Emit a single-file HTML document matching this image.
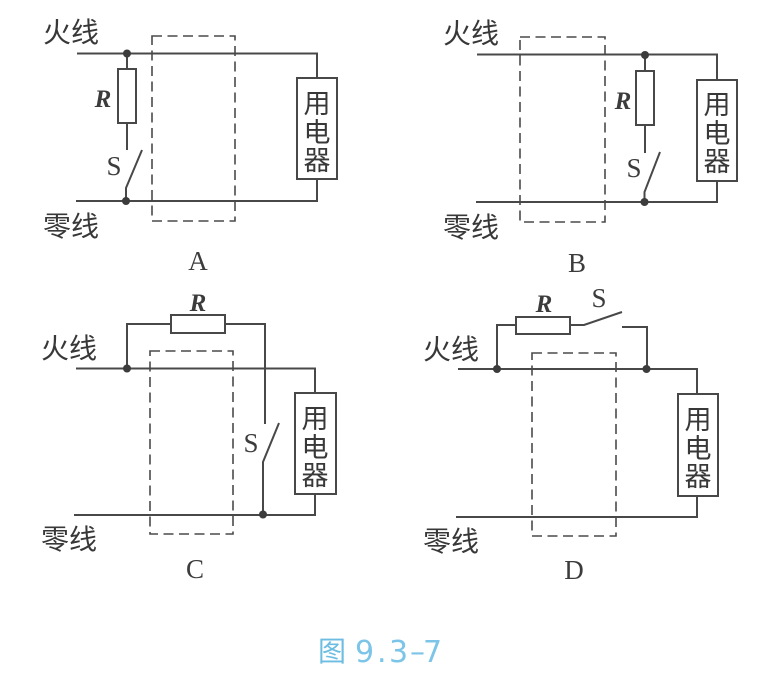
<!DOCTYPE html>
<html>
<head>
<meta charset="utf-8">
<style>
html,body{margin:0;padding:0;background:#fff;width:768px;height:681px;overflow:hidden}
svg{display:block;filter:blur(.35px)}
.w{fill:none;stroke:#484848;stroke-width:2}
.d{fill:none;stroke:#4a4a4a;stroke-width:1.6;stroke-dasharray:10 5.500}
.b{fill:#fff;stroke:#484848;stroke-width:2}
circle{fill:#3c3c3c}
.c{font-family:"Liberation Sans","Noto Sans CJK SC",sans-serif;font-size:28px;fill:#383838;font-weight:400}
.u{font-size:27px}
.r{font-family:"Liberation Serif",serif;font-size:25px;font-style:italic;font-weight:bold;fill:#3c3c3c;text-anchor:middle}
.s{font-family:"Liberation Serif",serif;font-size:27px;fill:#3c3c3c;text-anchor:middle}
.m{text-anchor:middle}
</style>
</head>
<body>
<svg width="768" height="681" viewBox="0 0 768 681" xmlns="http://www.w3.org/2000/svg">
<!-- A -->
<rect class="d" x="152" y="36" width="83" height="185"/>
<path class="w" d="M77 53.500H317V78M76 201H317V179M127 53V69M127 123V150M126 201V188L142 150"/>
<rect class="b" x="118" y="69" width="18" height="54"/>
<rect class="b" x="297" y="78" width="40" height="101"/>
<circle cx="127" cy="53.500" r="4"/><circle cx="126" cy="201" r="4"/>
<text class="c" x="43" y="42">火线</text>
<text class="c" x="43" y="236">零线</text>
<text class="r" x="103" y="107">R</text>
<text class="s" x="114" y="175">S</text>
<text class="s" x="198" y="270">A</text>
<text class="c u m" x="317" y="113">用</text>
<text class="c u m" x="317" y="142">电</text>
<text class="c u m" x="317" y="170">器</text>

<!-- B -->
<rect class="d" x="520" y="37" width="85" height="185"/>
<path class="w" d="M477 54.500H717V80M476 202H717V181M645 55V71M645 125V153M644.500 202V192L660 152"/>
<rect class="b" x="636" y="71" width="18" height="54"/>
<rect class="b" x="697" y="80" width="40" height="101"/>
<circle cx="645" cy="55" r="4"/><circle cx="644.500" cy="202" r="4"/>
<text class="c" x="443" y="43">火线</text>
<text class="c" x="443" y="237">零线</text>
<text class="r" x="623" y="109">R</text>
<text class="s" x="634" y="177">S</text>
<text class="s" x="577" y="272">B</text>
<text class="c u m" x="717" y="114">用</text>
<text class="c u m" x="717" y="143">电</text>
<text class="c u m" x="717" y="171">器</text>

<!-- C -->
<rect class="d" x="150" y="351" width="83" height="183"/>
<path class="w" d="M76 368.500H315V393M74 515H315V494M171 324H127V368M225 324H265V424M263 515V462L279 423"/>
<rect class="b" x="171" y="315" width="54" height="18"/>
<rect class="b" x="295" y="393" width="41" height="101"/>
<circle cx="127" cy="368.500" r="4"/><circle cx="263" cy="514.500" r="4"/>
<text class="c" x="41" y="358">火线</text>
<text class="c" x="41" y="549">零线</text>
<text class="r" x="198" y="311">R</text>
<text class="s" x="251" y="452">S</text>
<text class="s" x="195" y="578">C</text>
<text class="c u m" x="315" y="428">用</text>
<text class="c u m" x="315" y="457">电</text>
<text class="c u m" x="315" y="485">器</text>

<!-- D -->
<rect class="d" x="532" y="353" width="84" height="183"/>
<path class="w" d="M458 369H697V394M456 517H697V496M516 325H497V369M570 325H584L622 312M622 327H647V369"/>
<rect class="b" x="516" y="317" width="54" height="17"/>
<rect class="b" x="678" y="394" width="40" height="102"/>
<circle cx="497" cy="369" r="4"/><circle cx="646.500" cy="369" r="4"/>
<text class="c" x="423" y="359">火线</text>
<text class="c" x="423" y="551">零线</text>
<text class="r" x="544" y="312">R</text>
<text class="s" x="599" y="307">S</text>
<text class="s" x="574" y="579">D</text>
<text class="c u m" x="698" y="429">用</text>
<text class="c u m" x="698" y="458">电</text>
<text class="c u m" x="698" y="486">器</text>

<!-- caption -->
<text x="318" y="661" font-family="'Liberation Sans','Noto Sans CJK SC',sans-serif" font-size="28" fill="#6dbde3">图</text>
<text x="355 377 385 389 410 423" y="662" font-family="'DejaVu Sans',sans-serif" font-size="30" fill="#7cc5e8">9. 3–7</text>
</svg>
</body>
</html>
